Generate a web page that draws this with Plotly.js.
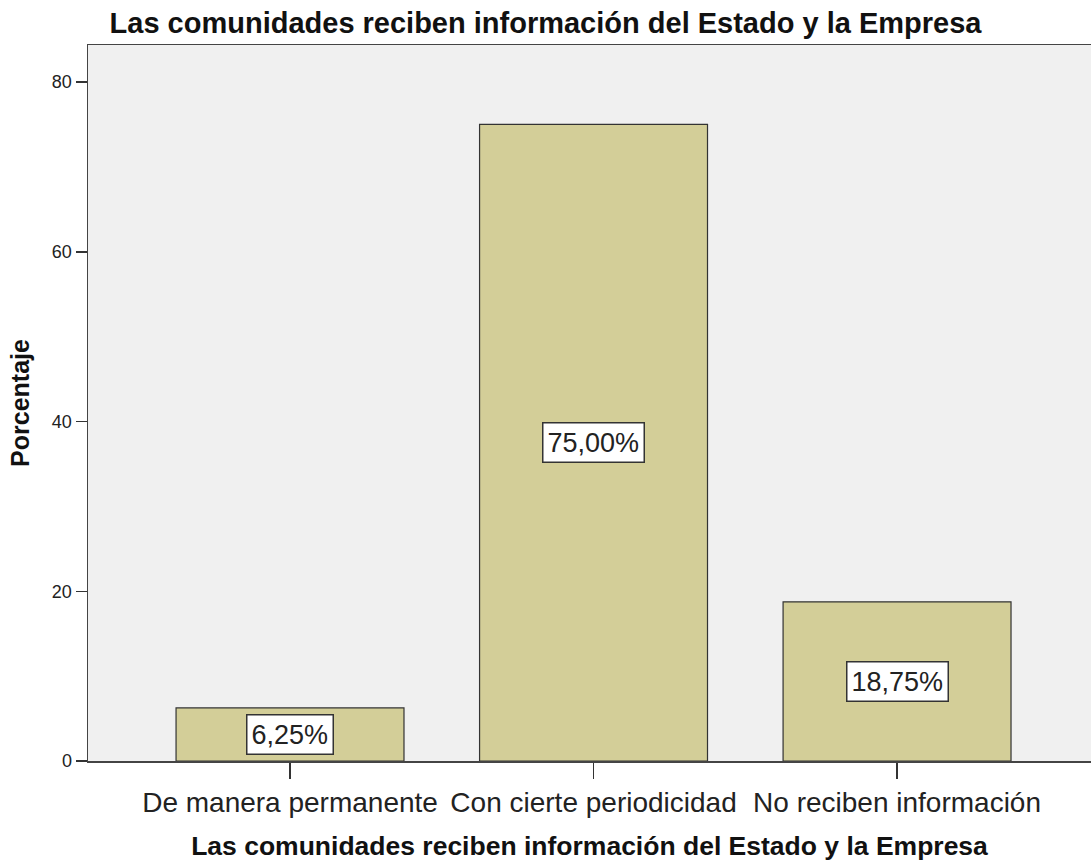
<!DOCTYPE html>
<html>
<head>
<meta charset="utf-8">
<script src="https://cdn.plot.ly/plotly-3.0.1.min.js"></script>
<style>html,body{margin:0;padding:0;background:#fff;}#chart{width:1091px;height:861px;}</style>
</head>
<body>
<div id="chart"></div>
<script>
const categories = ["De manera permanente", "Con cierte periodicidad", "No reciben información"];
const percentages = [6.25, 75.00, 18.75];
const valueLabels = ["6,25%", "75,00%", "18,75%"];
const yTickValues = [0, 20, 40, 60, 80];
const yTickLabels = ["0", "20", "40", "60", "80"];
const chartTitle = "Las comunidades reciben información del Estado y la Empresa";
const xTitle = "Las comunidades reciben información del Estado y la Empresa";
const yTitle = "Porcentaje";

const trace = {
  type: "bar",
  x: categories,
  y: percentages,
  width: 0.751,
  marker: { color: "#d3ce98", line: { color: "#333333", width: 1.2 } },
  hoverinfo: "none"
};

const annotations = categories.map((c, i) => ({
  x: c, y: percentages[i] / 2, xref: "x", yref: "y",
  text: valueLabels[i], showarrow: false,
  font: { family: "Liberation Sans, Arial, sans-serif", size: 27, color: "#222" },
  bgcolor: "#ffffff", bordercolor: "#333333", borderwidth: 1.5, borderpad: 4,
  xanchor: "center", yanchor: "middle"
}));

const layout = {
  width: 1091, height: 861,
  margin: { l: 88, r: 0, t: 45, b: 100 },
  paper_bgcolor: "#ffffff",
  plot_bgcolor: "#f0f0f0",
  showlegend: false,
  title: {
    text: chartTitle,
    font: { family: "Liberation Sans, Arial, sans-serif", size: 29, color: "#111", weight: "bold" },
    x: 0.5, xref: "container", xanchor: "center",
    y: 1 - 23 / 861, yref: "container", yanchor: "middle"
  },
  xaxis: {
    type: "category",
    range: [-0.6656, 2.639],
    showgrid: false, zeroline: false,
    showline: true, linecolor: "#444", linewidth: 1.5, mirror: true,
    ticks: "outside", ticklen: 16, tickwidth: 1.5, tickcolor: "#333",
    tickfont: { family: "Liberation Sans, Arial, sans-serif", size: 28, color: "#222" },
    title: {
      text: xTitle, standoff: 22,
      font: { family: "Liberation Sans, Arial, sans-serif", size: 26.5, color: "#111", weight: "bold" }
    }
  },
  yaxis: {
    range: [0, 84.36],
    tickvals: yTickValues, ticktext: yTickLabels,
    showgrid: false, zeroline: false,
    showline: true, linecolor: "#444", linewidth: 1.5,
    ticks: "outside", ticklen: 11, tickwidth: 1.5, tickcolor: "#333",
    tickfont: { family: "Liberation Sans, Arial, sans-serif", size: 18, color: "#222" },
    title: {
      text: yTitle, standoff: 15,
      font: { family: "Liberation Sans, Arial, sans-serif", size: 25, color: "#111", weight: "bold" }
    }
  },
  annotations: annotations
};

Plotly.newPlot("chart", [trace], layout, { displayModeBar: false, staticPlot: true });
</script>
</body>
</html>
